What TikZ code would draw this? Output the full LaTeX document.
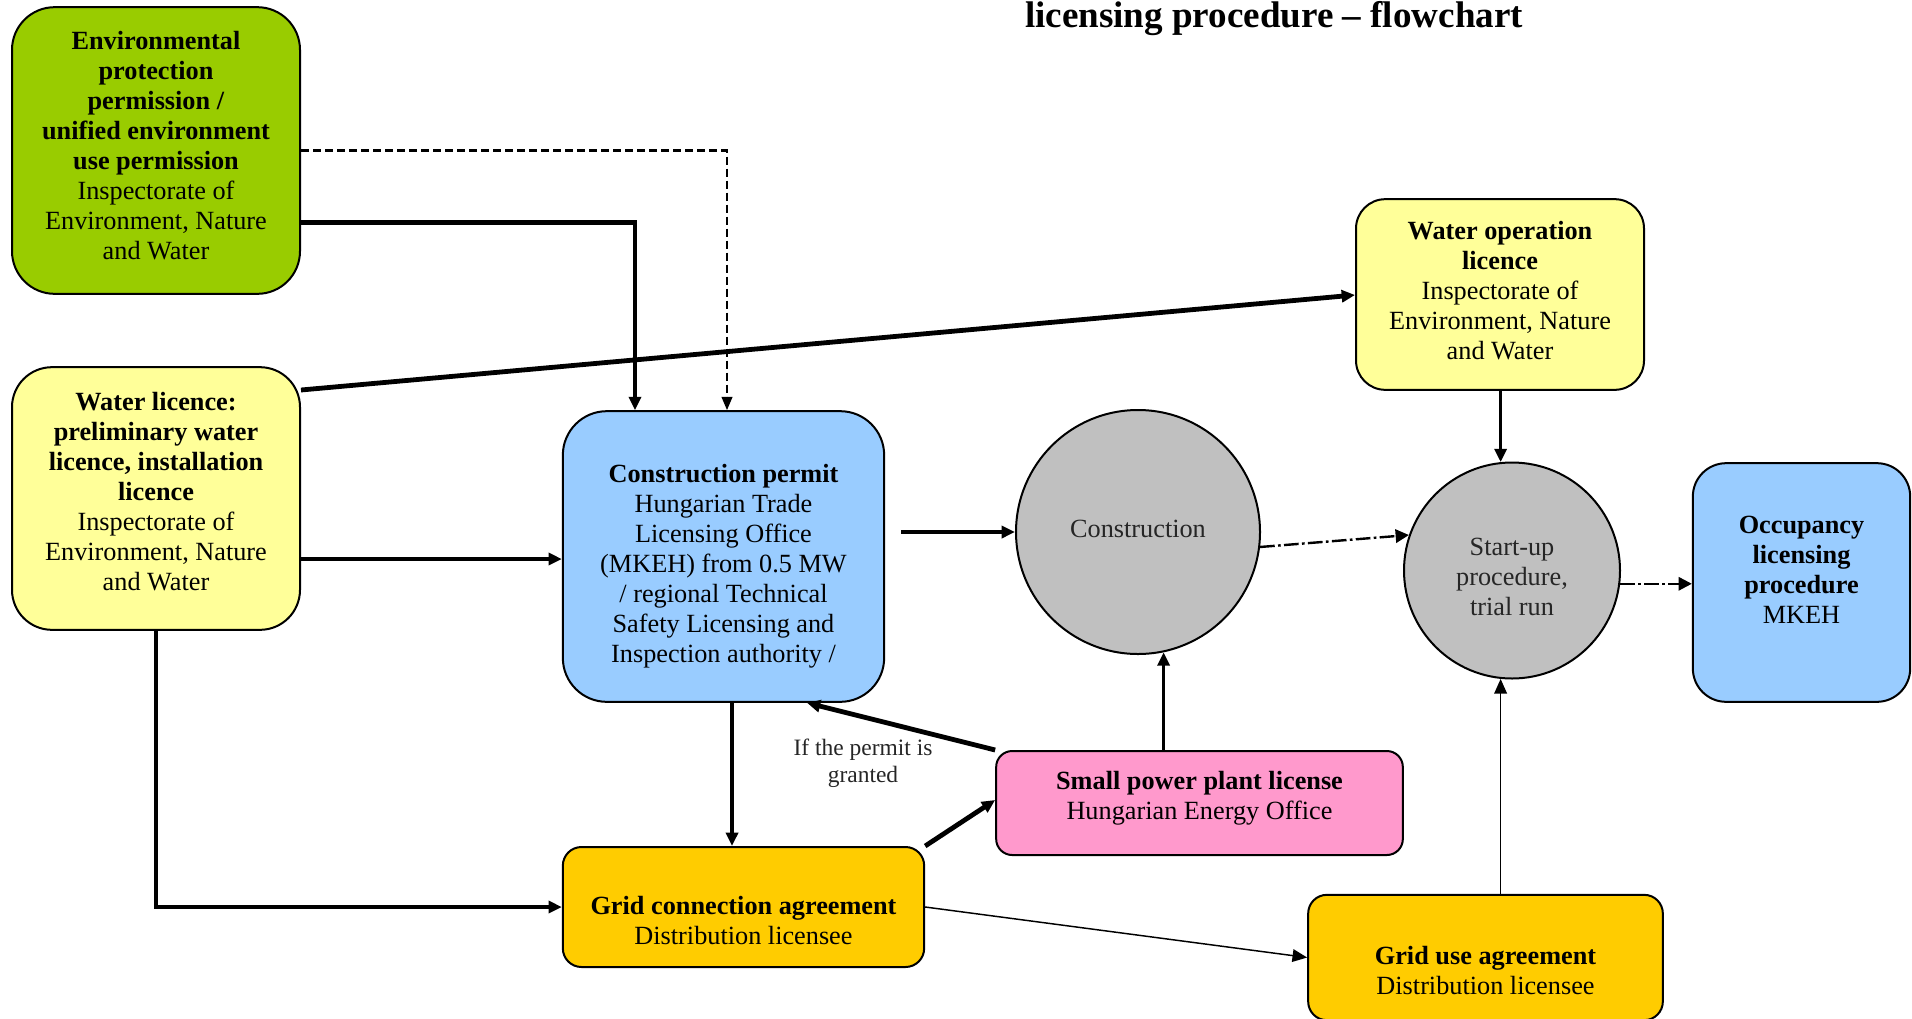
\documentclass[tikz,border=0pt]{standalone}
\usepackage{fontspec}
\setmainfont{Liberation Serif}
\usetikzlibrary{arrows.meta,calc}

\definecolor{envgreen}{HTML}{99CC00}
\definecolor{lightyellow}{HTML}{FFFF99}
\definecolor{lightblue}{HTML}{99CCFF}
\definecolor{stepgray}{HTML}{C0C0C0}
\definecolor{lightpink}{HTML}{FF99CC}
\definecolor{gridgold}{HTML}{FFCC00}

\begin{document}
\begin{tikzpicture}[x=0.75pt,y=0.75pt,yscale=-1,xscale=1,
  box/.style={draw, line width=1.5pt, inner sep=0pt},
  boxtext/.style={align=center, inner sep=0pt, font={\fontsize{19.7}{22.5}\selectfont}},
  stepcircle/.style={circle, draw, line width=1.5pt, fill=stepgray, inner sep=0pt},
  thickarr/.style={line width=3.6pt, -{Triangle[length=10pt,width=9pt]}},
  medarr/.style={line width=2.8pt, -{Triangle[length=10pt,width=9pt]}},
  thinarr/.style={line width=1.1pt, -{Triangle[length=11pt,width=9.5pt]}},
  dasharr/.style={line width=1.6pt, dash pattern={on 6pt off 3pt}, -{Triangle[length=10pt,width=8pt]}},
  dotarr/.style={line width=1.8pt, dash pattern={on 11pt off 2.5pt on 2pt off 2.5pt}, -{Triangle[length=10pt,width=10pt]}}]
\useasboundingbox (0,0) rectangle (1912,1018);
\clip (0,0) rectangle (1912,1018);

% Title
\node (title) at (1274,27) [anchor=base, font={\fontsize{27.8}{32}\selectfont\bfseries}] {licensing procedure – flowchart};

%Shape: Rounded Rectangle
\node (env) at (156,150.5) [box, fill=envgreen, rounded corners=32pt, minimum width=216pt, minimum height=215pt] {};
%Shape: Rounded Rectangle
\node (wl) at (156,498.5) [box, fill=lightyellow, rounded corners=30pt, minimum width=216pt, minimum height=197pt] {};
%Shape: Rounded Rectangle
\node (permit) at (723.5,556.5) [box, fill=lightblue, rounded corners=33pt, minimum width=241pt, minimum height=218pt] {};
%Shape: Rounded Rectangle
\node (wol) at (1500,294.5) [box, fill=lightyellow, rounded corners=22pt, minimum width=216pt, minimum height=143pt] {};
%Shape: Rounded Rectangle
\node (occ) at (1801.5,582.5) [box, fill=lightblue, rounded corners=25pt, minimum width=163pt, minimum height=179pt] {};
%Shape: Rounded Rectangle
\node (spp) at (1199.5,803) [box, fill=lightpink, rounded corners=12pt, minimum width=305pt, minimum height=78pt] {};
%Shape: Rounded Rectangle
\node (gca) at (743.5,907) [box, fill=gridgold, rounded corners=14pt, minimum width=271pt, minimum height=90pt] {};
%Shape: Rounded Rectangle
\node (gua) at (1485.5,957.5) [box, fill=gridgold, rounded corners=14pt, minimum width=266pt, minimum height=94pt] {};
%Shape: Circle
\node (constr) at (1138,532) [stepcircle, minimum size=183pt] {};
%Shape: Circle
\node (startup) at (1512,570.5) [stepcircle, minimum size=162pt] {};

% Text Node
\node (envtext) at (156,146) [boxtext] {\textbf{Environmental}\\ \textbf{protection}\\ \textbf{permission /}\\ \textbf{unified environment}\\ \textbf{use permission}\\ Inspectorate of\\ Environment, Nature\\ and Water};
% Text Node
\node (wltext) at (156,491.5) [boxtext] {\textbf{Water licence:}\\ \textbf{preliminary water}\\ \textbf{licence, installation}\\ \textbf{licence}\\ Inspectorate of\\ Environment, Nature\\ and Water};
% Text Node
\node (permittext) at (723.5,566.5) [boxtext] {\textbf{Construction permit}\\ Hungarian Trade\\ Licensing Office\\ (MKEH) from 0.5 MW\\ / regional Technical\\ Safety Licensing and\\ Inspection authority /};
% Text Node
\node (woltext) at (1500,291) [boxtext] {\textbf{Water operation}\\ \textbf{licence}\\ Inspectorate of\\ Environment, Nature\\ and Water};
% Text Node
\node (occtext) at (1801.5,570) [boxtext] {\textbf{Occupancy}\\ \textbf{licensing}\\ \textbf{procedure}\\ MKEH};
% Text Node
\node (spptext) at (1199.5,798) [boxtext] {\textbf{Small power plant license}\\ Hungarian Energy Office};
% Text Node
\node (gcatext) at (743.5,920.5) [boxtext] {\textbf{Grid connection agreement}\\ Distribution licensee};
% Text Node
\node (guatext) at (1485.5,970) [boxtext] {\textbf{Grid use agreement}\\ Distribution licensee};
% Text Node
\node (constrtext) at (1138,529) [boxtext, text=black!85] {Construction};
% Text Node
\node (startuptext) at (1512,577) [boxtext, text=black!85] {Start-up\\ procedure,\\ trial run};
% Text Node
\node (granted) at (863,763) [align=center, text=black!85, font={\fontsize{17.6}{20}\selectfont}] {If the permit is\\ granted};

%Straight Lines
\draw[dasharr] (env.east) -| ($(permit.north)+(3.5,0)$);
\draw[thickarr] ($(env.east)+(0,72)$) -| ($(permit.north)+(-88.5,0)$);
\draw[thickarr] ($(wl.east)+(0,-108.5)$) -- ($(wol.west)+(0,0.5)$);
\draw[thickarr] ($(wl.east)+(0,60.5)$) coordinate (wlp) -- (wlp -| permit.west);
\draw[thickarr] (wl.south) |- (gca.west);
\draw[medarr] ($(permit.south)+(8.5,0)$) coordinate (pgc) -- (pgc |- gca.north);
\draw[thickarr] (spp.north west) -- ($(permit.south)+(83.5,0)$);
\draw[thickarr] (gca.north east) -- ($(spp.west)+(0,-3)$);
\draw[thinarr] (gca.east) -- (gua.west);
\draw[thickarr] ($(permit.east)+(16,-24.5)$) -- (constr.west);
\draw[medarr] (constr.-78 |- spp.north) -- (constr.-78);
\draw[dotarr] (constr.-7) -- (startup.161);
\draw[medarr] (startup.96 |- wol.south) -- (startup.96);
\draw[thinarr] (startup.-96 |- gua.north) -- (startup.-96);
\draw[dotarr] (startup.-7) -- (startup.-7 -| occ.west);

\end{tikzpicture}
\end{document}
